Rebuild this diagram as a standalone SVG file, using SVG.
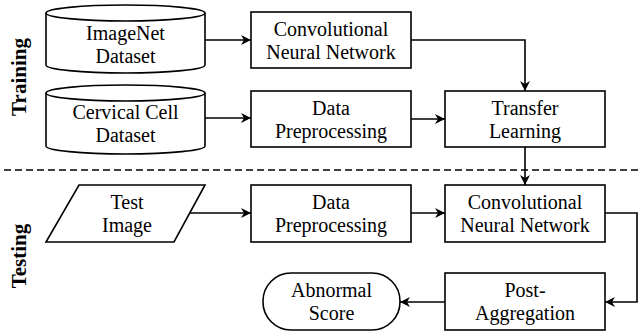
<svg xmlns="http://www.w3.org/2000/svg" width="639" height="335" viewBox="0 0 639 335">
<defs>
<style>
.s{fill:#fff;stroke:#000;stroke-width:1.6}
.c{fill:none;stroke:#000;stroke-width:1.6}
.t{font-family:"Liberation Serif","Times New Roman",serif;font-size:20px;text-anchor:middle;fill:#000}
.b{font-family:"Liberation Serif","Times New Roman",serif;font-size:21px;font-weight:bold;text-anchor:middle;fill:#000}
</style>
<marker id="ah" viewBox="0 0 10 10" refX="10" refY="5" markerWidth="10" markerHeight="10" markerUnits="userSpaceOnUse" orient="auto">
<path d="M0,0 L10,5 L0,10 L3,5 Z" fill="#000"/>
</marker>
</defs>
<rect width="639" height="335" fill="#fff"/>
<text class="b" transform="translate(26,77) rotate(-90)">Training</text>
<text class="b" transform="translate(26,256) rotate(-90)">Testing</text>
<line x1="4" y1="170" x2="639" y2="170" stroke="#000" stroke-width="1.6" stroke-dasharray="7,4"/>
<g id="imagenet">
<path class="s" d="M46,13 L46,65 A79.5,8 0 0 0 205,65 L205,13"/>
<ellipse class="s" cx="125.5" cy="13" rx="79.5" ry="8"/>
<text class="t" x="125.5" y="40">ImageNet</text>
<text class="t" x="125.5" y="63">Dataset</text>
</g>
<g id="cervical">
<path class="s" d="M46,93 L46,146 A79.5,8 0 0 0 205,146 L205,93"/>
<ellipse class="s" cx="125.5" cy="93" rx="79.5" ry="8"/>
<text class="t" x="125.5" y="119">Cervical Cell</text>
<text class="t" x="125.5" y="142">Dataset</text>
</g>
<g id="cnn-train">
<rect class="s" x="251" y="12" width="160" height="56"/>
<text class="t" x="331" y="35.5">Convolutional</text>
<text class="t" x="331" y="58.5">Neural Network</text>
</g>
<g id="prep-train">
<rect class="s" x="251" y="91" width="160" height="56"/>
<text class="t" x="331" y="114.5">Data</text>
<text class="t" x="331" y="137.5">Preprocessing</text>
</g>
<g id="transfer">
<rect class="s" x="445" y="91" width="160" height="56"/>
<text class="t" x="525" y="114.5">Transfer</text>
<text class="t" x="525" y="137.5">Learning</text>
</g>
<g id="test-image">
<polygon class="s" points="79,185 205,185 174,242 46,242"/>
<text class="t" x="127" y="208.5">Test</text>
<text class="t" x="127" y="231.5">Image</text>
</g>
<g id="prep-test">
<rect class="s" x="251" y="185" width="160" height="57"/>
<text class="t" x="331" y="209">Data</text>
<text class="t" x="331" y="232">Preprocessing</text>
</g>
<g id="cnn-test">
<rect class="s" x="445" y="185" width="160" height="57"/>
<text class="t" x="525" y="209">Convolutional</text>
<text class="t" x="525" y="232">Neural Network</text>
</g>
<g id="post-agg">
<rect class="s" x="445" y="273" width="160" height="57"/>
<text class="t" x="525" y="297">Post-</text>
<text class="t" x="525" y="320">Aggregation</text>
</g>
<g id="abnormal">
<rect class="s" x="263" y="273" width="137" height="57" rx="28" ry="28"/>
<text class="t" x="331.5" y="297">Abnormal</text>
<text class="t" x="331.5" y="320">Score</text>
</g>
<g id="connectors">
<line class="c" x1="205" y1="40" x2="251" y2="40" marker-end="url(#ah)"/>
<line class="c" x1="205" y1="118" x2="251" y2="118" marker-end="url(#ah)"/>
<polyline class="c" points="411,40 525,40 525,91" marker-end="url(#ah)"/>
<line class="c" x1="411" y1="119" x2="445" y2="119" marker-end="url(#ah)"/>
<line class="c" x1="525" y1="147" x2="525" y2="185" marker-end="url(#ah)"/>
<line class="c" x1="190" y1="213" x2="251" y2="213" marker-end="url(#ah)"/>
<line class="c" x1="411" y1="213" x2="445" y2="213" marker-end="url(#ah)"/>
<polyline class="c" points="605,213 637,213 637,302 605,302" marker-end="url(#ah)"/>
<line class="c" x1="445" y1="302" x2="400" y2="302" marker-end="url(#ah)"/>
</g>
</svg>
